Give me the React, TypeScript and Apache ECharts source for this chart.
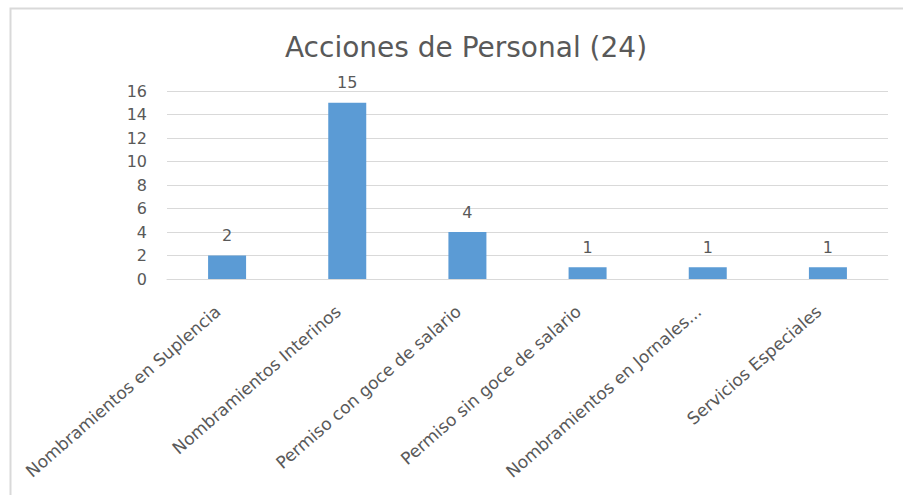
import React, { useEffect, useRef } from "react";
import * as echarts from "echarts";

const titleText = "Acciones de Personal (24)";
const categories = [
  "Nombramientos en Suplencia",
  "Nombramientos Interinos",
  "Permiso con goce de salario",
  "Permiso sin goce de salario",
  "Nombramientos en Jornales...",
  "Servicios Especiales",
];
const values = [2, 15, 4, 1, 1, 1];
const yTicks = { min: 0, max: 16, interval: 2 };

export default function App() {
  const ref = useRef<HTMLDivElement>(null);
  useEffect(() => {
    if (!ref.current) return;
    const chart = echarts.init(ref.current, null, { renderer: "svg" });
    const font = "'DejaVu Sans', 'Open Sans', sans-serif";
    chart.setOption({
      animation: false,
      backgroundColor: "#ffffff",
      title: {
        text: titleText,
        left: 461,
        top: 28,
        textAlign: "center",
        textStyle: { fontFamily: font, fontSize: 28, fontWeight: "normal", color: "#595959" },
      },
      graphic: [
        {
          type: "rect",
          shape: { x: 10.5, y: 8.5, width: 1000, height: 600 },
          style: { fill: "none", stroke: "#d9d9d9", lineWidth: 2 },
          silent: true,
        },
      ],
      grid: { left: 167, right: 15, top: 91, bottom: 216, containLabel: false },
      xAxis: {
        type: "category",
        data: categories,
        axisLine: { show: true, lineStyle: { color: "#d9d9d9" } },
        axisTick: { show: false },
        axisLabel: {
          rotate: 41,
          interval: 0,
          margin: 22,
          padding: [0, 12, 0, 0],
          fontFamily: font,
          fontSize: 17,
          color: "#595959",
        },
      },
      yAxis: {
        type: "value",
        min: yTicks.min,
        max: yTicks.max,
        interval: yTicks.interval,
        axisLine: { show: false },
        axisTick: { show: false },
        splitLine: { lineStyle: { color: "#d9d9d9" } },
        axisLabel: { margin: 20, fontFamily: font, fontSize: 16, color: "#595959" },
      },
      series: [
        {
          type: "bar",
          data: values,
          barWidth: 38,
          itemStyle: { color: "#5b9bd5" },
          label: {
            show: true,
            position: "top",
            distance: 12,
            fontFamily: font,
            fontSize: 16,
            color: "#595959",
          },
        },
      ],
    });
    return () => chart.dispose();
  }, []);
  return (
    <div
      ref={ref}
      style={{ position: "absolute", left: 0, top: 0, width: 903, height: 495 }}
    />
  );
}
